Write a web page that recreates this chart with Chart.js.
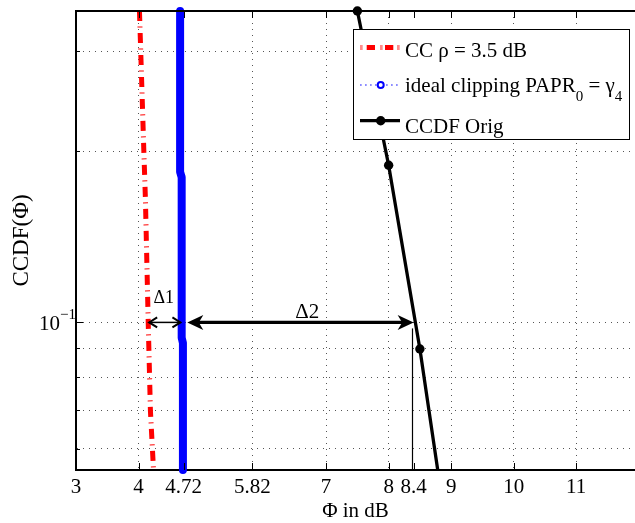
<!DOCTYPE html>
<html>
<head>
<meta charset="utf-8">
<script src="https://cdn.jsdelivr.net/npm/chart.js@4.4.1/dist/chart.umd.min.js"></script>
<style>
  html, body { margin: 0; padding: 0; background: #fff; overflow: hidden; }
</style>
</head>
<body>
<canvas id="ccdf" width="635" height="523"></canvas>
<script>
// axis ticks
const xTicks = [3, 4, 4.72, 5.82, 7, 8, 8.4, 9, 10, 11];
const yGrid = [0.06, 0.07, 0.08, 0.09, 0.1, 0.2, 0.3];

// CC, rho = 3.5 dB
const ccPhi = [4.015, 4.085, 4.11, 4.155, 4.19, 4.24];
const ccProb = [0.353, 0.2, 0.165, 0.1, 0.07, 0.055];

// ideal clipping, PAPR0 = gamma4
const clipPhi = [4.665, 4.665, 4.69, 4.69, 4.71, 4.71];
const clipProb = [0.353, 0.184, 0.18, 0.094, 0.092, 0.055];

// CCDF of the original signal
const origPhi = [7.5, 8.0, 8.5, 9.0];
const origProb = [0.353, 0.189, 0.0898, 0.038];

// delta annotations at CCDF = 0.1
const deltaLevel = 0.1;
const delta1 = [4.17, 4.67];
const delta2 = [4.78, 8.4];
const dropAt = 8.38;

const SERIF = '"Liberation Serif", "Times New Roman", serif';

const toPoints = (xs, ys) => xs.map((v, i) => ({ x: v, y: ys[i] }));

function notchedHead (ctx, tip, y, dir, len, half) {
    ctx.beginPath();
    ctx.moveTo(tip, y);
    ctx.lineTo(tip - dir * len, y - half);
    ctx.lineTo(tip - dir * len * 0.72, y);
    ctx.lineTo(tip - dir * len, y + half);
    ctx.closePath();
    ctx.fill();
}

function openHead (ctx, tip, y, dir, len, half) {
    ctx.beginPath();
    ctx.moveTo(tip - dir * len, y - half);
    ctx.lineTo(tip, y);
    ctx.lineTo(tip - dir * len, y + half);
    ctx.stroke();
}

const decorations = {
    id: 'decorations',
    afterDatasetsDraw (chart) {
        const { ctx, chartArea: a, scales: { x, y } } = chart;
        ctx.save();

        // top frame line and inward ticks
        ctx.strokeStyle = '#000';
        ctx.lineWidth = 2;
        ctx.beginPath();
        ctx.moveTo(a.left, a.top);
        ctx.lineTo(a.right, a.top);
        ctx.stroke();

        ctx.lineWidth = 1;
        ctx.beginPath();
        xTicks.forEach(v => {
            const px = Math.round(x.getPixelForValue(v)) + 0.5;
            ctx.moveTo(px, a.bottom);
            ctx.lineTo(px, a.bottom - 7);
            ctx.moveTo(px, a.top);
            ctx.lineTo(px, a.top + 7);
        });
        yGrid.forEach(v => {
            const py = Math.round(y.getPixelForValue(v)) + 0.5;
            const len = v === 0.1 ? 7 : 4;
            ctx.moveTo(a.left, py);
            ctx.lineTo(a.left + len, py);
        });
        ctx.stroke();

        // 10^-1 label
        const p1 = y.getPixelForValue(0.1);
        ctx.fillStyle = '#000';
        ctx.textBaseline = 'alphabetic';
        ctx.textAlign = 'right';
        ctx.font = `21px ${SERIF}`;
        ctx.fillText('10', a.left - 16, p1 + 8);
        ctx.textAlign = 'left';
        ctx.font = `15px ${SERIF}`;
        ctx.fillText('\u22121', a.left - 16, p1 - 3);

        // delta 1: thin double arrow
        const yd = y.getPixelForValue(deltaLevel);
        const d1a = x.getPixelForValue(delta1[0]);
        const d1b = x.getPixelForValue(delta1[1]);
        ctx.lineWidth = 1.5;
        ctx.beginPath();
        ctx.moveTo(d1a, yd);
        ctx.lineTo(d1b, yd);
        ctx.stroke();
        ctx.lineWidth = 2;
        openHead(ctx, d1a, yd, -1, 8, 5);
        openHead(ctx, d1b, yd, 1, 8, 5);

        // delta 2: thick double arrow
        const d2a = x.getPixelForValue(delta2[0]);
        const d2b = x.getPixelForValue(delta2[1]);
        ctx.lineWidth = 3.2;
        ctx.beginPath();
        ctx.moveTo(d2a + 6, yd);
        ctx.lineTo(d2b - 6, yd);
        ctx.stroke();
        notchedHead(ctx, d2a, yd, -1, 16, 7.5);
        notchedHead(ctx, d2b, yd, 1, 16, 7.5);

        // drop line at the original curve
        const xd = Math.round(x.getPixelForValue(dropAt)) + 0.5;
        ctx.lineWidth = 1.2;
        ctx.beginPath();
        ctx.moveTo(xd, yd + 6);
        ctx.lineTo(xd, a.bottom);
        ctx.stroke();

        ctx.textAlign = 'center';
        ctx.font = `18px ${SERIF}`;
        ctx.fillText('\u03941', (d1a + d1b) / 2 - 1, yd - 19);
        ctx.font = `21px ${SERIF}`;
        ctx.fillText('\u03942', x.getPixelForValue(6.7), yd - 4);

        // legend box
        const lx = 353.5, ly = 29.5, lw = 276, lh = 110;
        ctx.fillStyle = '#fff';
        ctx.fillRect(lx, ly, lw, lh);
        ctx.strokeStyle = '#000';
        ctx.lineWidth = 1;
        ctx.strokeRect(lx, ly, lw, lh);

        const s0 = 360, s1 = 400, sm = 380.7;
        // red dash-dot sample
        ctx.fillStyle = 'rgba(255,0,0,0.45)';
        [360, 380, 397].forEach(px => ctx.fillRect(px, 45, 2.7, 5));
        ctx.fillStyle = '#ff0000';
        [366.7, 385].forEach(px => ctx.fillRect(px, 45, 8.3, 5));

        // blue dotted sample with circle
        ctx.fillStyle = 'rgba(0,0,255,0.45)';
        [360, 365, 370, 375, 386, 391, 396].forEach(px => ctx.fillRect(px, 84, 1.7, 2));
        ctx.strokeStyle = '#0000ff';
        ctx.lineWidth = 2;
        ctx.beginPath();
        ctx.arc(sm, 85, 3, 0, Math.PI * 2);
        ctx.stroke();

        // black solid sample with dot
        ctx.strokeStyle = '#000';
        ctx.lineWidth = 3.3;
        ctx.beginPath();
        ctx.moveTo(s0, 120.7);
        ctx.lineTo(s1, 120.7);
        ctx.stroke();
        ctx.fillStyle = '#000';
        ctx.beginPath();
        ctx.arc(sm, 120.7, 4.7, 0, Math.PI * 2);
        ctx.fill();

        ctx.textAlign = 'left';
        ctx.font = `21px ${SERIF}`;
        ctx.fillText('CC \u03c1 = 3.5 dB', 405, 57);

        let tx = 405;
        const part = (t, size, base) => {
            ctx.font = `${size}px ${SERIF}`;
            ctx.fillText(t, tx, base);
            tx += ctx.measureText(t).width;
        };
        part('ideal clipping PAPR', 21, 91.5);
        part('0', 15, 101);
        part(' = \u03b3', 21, 91.5);
        part('4', 15, 101);

        ctx.font = `21px ${SERIF}`;
        ctx.fillText('CCDF Orig', 405, 133);

        ctx.restore();
    }
};

new Chart(document.getElementById('ccdf').getContext('2d'), {
    type: 'scatter',
    data: {
        datasets: [
            {
                label: 'CC \u03c1 = 3.5 dB',
                data: toPoints(ccPhi, ccProb),
                showLine: true,
                borderColor: '#ff0000',
                borderWidth: 5,
                borderDash: [10, 5.5, 1, 5.5],
                pointRadius: 0,
                clip: 0
            },
            {
                label: 'ideal clipping PAPR0 = \u03b34',
                data: toPoints(clipPhi, clipProb),
                showLine: true,
                borderColor: '#0000ff',
                borderWidth: 8,
                borderCapStyle: 'round',
                borderJoinStyle: 'round',
                pointRadius: 0,
                clip: { left: 0, right: 0, top: 5, bottom: 5 }
            },
            {
                label: 'CCDF Orig',
                data: toPoints(origPhi, origProb),
                showLine: true,
                borderColor: '#000',
                borderWidth: 3.3,
                pointRadius: 4.7,
                pointBackgroundColor: '#000',
                pointBorderWidth: 0,
                clip: { left: 0, right: 0, top: 6, bottom: 0 }
            }
        ]
    },
    options: {
        responsive: false,
        animation: false,
        layout: {
            autoPadding: false,
            padding: { top: 11, right: 0, left: 0, bottom: 0 }
        },
        plugins: {
            legend: { display: false },
            tooltip: { enabled: false }
        },
        scales: {
            x: {
                type: 'linear',
                min: 3,
                max: 11.94,
                afterBuildTicks: scale => {
                    scale.ticks = xTicks.map(v => ({ value: v }));
                },
                afterFit: scale => {
                    scale.height = 53;
                    scale.paddingLeft = 0;
                    scale.paddingRight = 0;
                },
                ticks: {
                    autoSkip: false,
                    maxRotation: 0,
                    padding: 7,
                    color: '#000',
                    font: { family: SERIF, size: 21, lineHeight: 1 },
                    callback: v => String(v)
                },
                grid: {
                    drawTicks: false,
                    lineWidth: 1,
                    color: c => (c.tick && (c.tick.value === 3 || c.tick.value === 8.4)) ? 'rgba(0,0,0,0)' : '#555'
                },
                border: { color: '#000', width: 2, dash: [1, 5] },
                title: {
                    display: true,
                    text: '\u03a6 in dB',
                    color: '#000',
                    font: { family: SERIF, size: 21, lineHeight: 1 },
                    padding: { top: 0, bottom: 1 }
                }
            },
            y: {
                type: 'logarithmic',
                min: 0.055,
                max: 0.353,
                afterBuildTicks: scale => {
                    scale.ticks = yGrid.map(v => ({ value: v }));
                },
                afterFit: scale => {
                    scale.width = 76;
                    scale.paddingTop = 0;
                    scale.paddingBottom = 0;
                },
                ticks: {
                    callback: () => ''
                },
                grid: {
                    drawTicks: false,
                    lineWidth: 1,
                    color: '#555'
                },
                border: { color: '#000', width: 2, dash: [1, 5] },
                title: {
                    display: true,
                    text: 'CCDF(\u03a6)',
                    color: '#000',
                    font: { family: SERIF, size: 23, lineHeight: 1 },
                    padding: { top: 10, bottom: 0 }
                }
            }
        }
    },
    plugins: [decorations]
});
</script>
</body>
</html>
